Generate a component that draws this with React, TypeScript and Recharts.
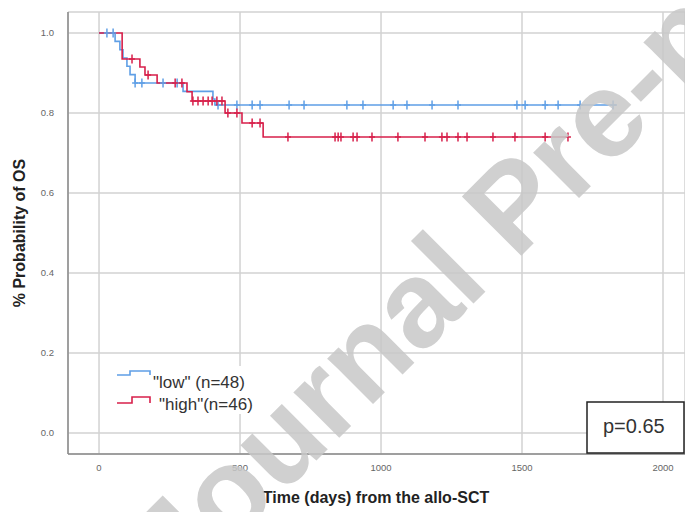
import React from "react";
import { ComposedChart, Line, Scatter, XAxis, YAxis, CartesianGrid } from "recharts";

// Kaplan-Meier step points (time in days, survival probability)
const lowSteps = [
  { t: 0, s: 1.0 },
  { t: 57, s: 0.979 },
  { t: 74, s: 0.958 },
  { t: 85, s: 0.9375 },
  { t: 99, s: 0.917 },
  { t: 110, s: 0.896 },
  { t: 128, s: 0.875 },
  { t: 298, s: 0.854 },
  { t: 404, s: 0.835 },
  { t: 411, s: 0.82 },
  { t: 1837, s: 0.82 },
];
const highSteps = [
  { t: 0, s: 1.0 },
  { t: 82, s: 0.935 },
  { t: 145, s: 0.915 },
  { t: 163, s: 0.895 },
  { t: 206, s: 0.875 },
  { t: 312, s: 0.853 },
  { t: 330, s: 0.83 },
  { t: 447, s: 0.8 },
  { t: 507, s: 0.775 },
  { t: 582, s: 0.74 },
  { t: 1663, s: 0.74 },
];
// censoring times
const lowCensorTimes = [28, 50, 128, 152, 227, 277, 422, 489, 543, 571, 674, 727, 879, 936, 1043, 1092, 1181, 1273, 1482, 1511, 1582, 1628, 1706, 1823];
const highCensorTimes = [117, 174, 270, 294, 333, 351, 369, 387, 401, 418, 436, 457, 489, 543, 571, 670, 837, 848, 858, 901, 915, 968, 1060, 1156, 1216, 1234, 1273, 1305, 1397, 1475, 1582, 1663];

const xTicks = [0, 500, 1000, 1500, 2000];
const yTicks = [0, 0.2, 0.4, 0.6, 0.8, 1.0];
const lowLabel = '"low" (n=48)';
const highLabel = '"high"(n=46)';
const pLabel = "p=0.65";
const xTitle = "Time (days) from the allo-SCT";
const yTitle = "% Probability of OS";
const watermark = "Journal Pre-proof";

const BLUE = "#5f9fe6";
const RED = "#d7204b";
const FONT = "'Liberation Sans', Arial, sans-serif";

function survivalAt(steps: { t: number; s: number }[], t: number) {
  let v = steps[0].s;
  for (const p of steps) if (p.t <= t) v = p.s;
  return v;
}
const lowCensor = lowCensorTimes.map((t) => ({ t, s: survivalAt(lowSteps, t) }));
const highCensor = highCensorTimes.map((t) => ({ t, s: survivalAt(highSteps, t) }));

const makeMark = (color: string) => (props: any) => {
  const { cx, cy } = props;
  if (cx == null || cy == null) return <g />;
  return (
    <g>
      <line x1={cx} x2={cx} y1={cy - 4.5} y2={cy + 4.5} stroke={color} strokeWidth={1.5} />
      <line x1={cx - 3} x2={cx + 3} y1={cy} y2={cy} stroke={color} strokeWidth={1.5} />
    </g>
  );
};

export default function App() {
  return (
    <div style={{ position: "absolute", left: 0, top: 0, width: 685, height: 512, background: "#fff", overflow: "hidden" }}>
      <ComposedChart width={685} height={512} margin={{ top: 12, right: 0, bottom: 0, left: 0 }}>
        <CartesianGrid stroke="#d2d2d2" strokeWidth={1.5} />
        <XAxis
          type="number"
          dataKey="t"
          domain={[-110, 2078]}
          ticks={xTicks}
          allowDataOverflow
          height={58}
          tickLine={false}
          tickSize={0}
          tickMargin={10}
          axisLine={{ stroke: "#8a8a8a", strokeWidth: 1.5 }}
          tick={{ fontSize: 9.5, fill: "#666", fontFamily: FONT }}
        />
        <YAxis
          type="number"
          dataKey="s"
          domain={[-0.0525, 1.0525]}
          ticks={yTicks}
          allowDataOverflow
          width={68}
          tickLine={false}
          tickSize={0}
          tickMargin={14}
          tickFormatter={(v: number) => v.toFixed(1)}
          axisLine={{ stroke: "#8a8a8a", strokeWidth: 1.5 }}
          tick={{ fontSize: 9.5, fill: "#666", fontFamily: FONT }}
        />
        <Line data={lowSteps} dataKey="s" type="stepAfter" stroke={BLUE} strokeWidth={1.6} dot={false} isAnimationActive={false} />
        <Line data={highSteps} dataKey="s" type="stepAfter" stroke={RED} strokeWidth={1.6} dot={false} isAnimationActive={false} />
        <Scatter data={lowCensor} dataKey="s" shape={makeMark(BLUE)} isAnimationActive={false} />
        <Scatter data={highCensor} dataKey="s" shape={makeMark(RED)} isAnimationActive={false} />
      </ComposedChart>
      <svg width={685} height={512} style={{ position: "absolute", left: 0, top: 0, pointerEvents: "none" }}>
        <text x={376} y={503} textAnchor="middle" fontFamily={FONT} fontWeight="bold" fontSize={16} fill="#222">{xTitle}</text>
        <text transform="translate(25,233) rotate(-90)" textAnchor="middle" fontFamily={FONT} fontWeight="bold" fontSize={16} fill="#222">{yTitle}</text>
        <rect x={112} y={366} width={150} height={48} fill="#fff" />
        <path d="M117,375 H130 V371 H150 V375" fill="none" stroke={BLUE} strokeWidth={1.6} />
        <path d="M117,403 H132 V397 H150 V403" fill="none" stroke={RED} strokeWidth={1.6} />
        <text x={153} y={388} fontFamily={FONT} fontSize={17} fill="#333">{lowLabel}</text>
        <text x={159} y={410} fontFamily={FONT} fontSize={17} fill="#333">{highLabel}</text>
        <rect x={587} y={402} width={97} height={51} fill="#fff" stroke="#222" strokeWidth={1.5} />
        <text x={603} y={433} fontFamily={FONT} fontSize={20} fill="#333">{pLabel}</text>
        <text transform="translate(180,597) rotate(-45)" fontFamily={FONT} fontWeight="bold" fontSize={122} fill="#c8c8c8" opacity={0.85}>{watermark}</text>
      </svg>
    </div>
  );
}
